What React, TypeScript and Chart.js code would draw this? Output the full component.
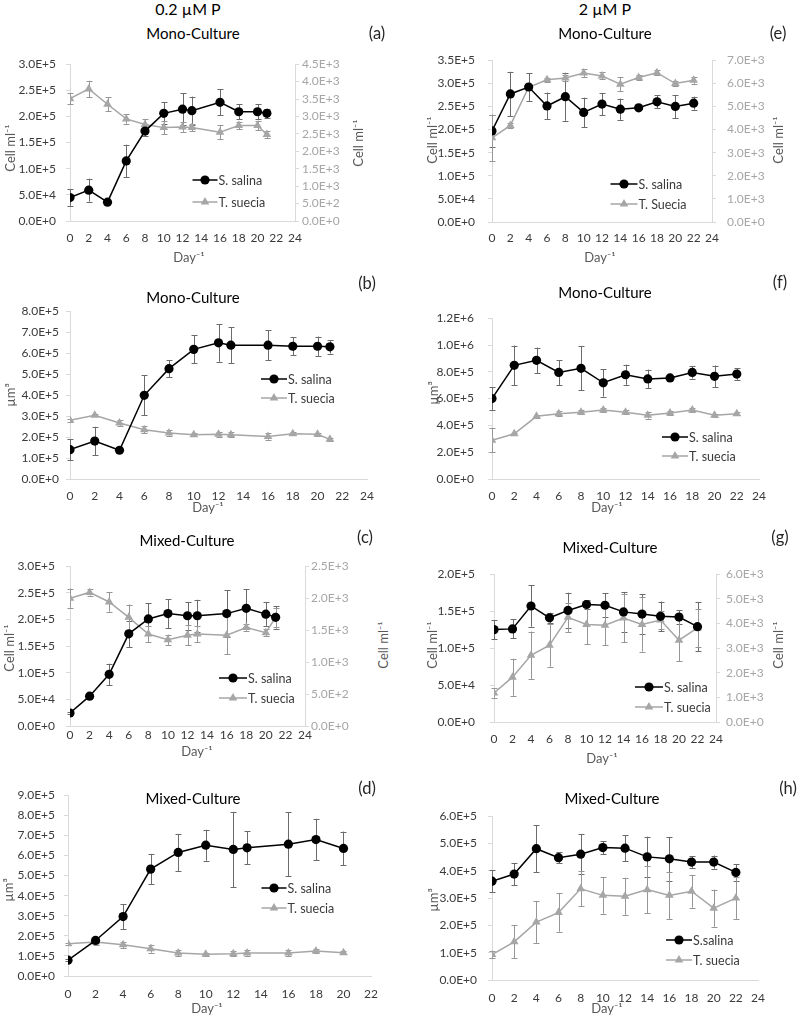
import React, { useEffect, useRef } from 'react';
import { Chart, registerables } from 'chart.js';

Chart.register(...registerables);

const FONT = 'Lato, "Open Sans", "DejaVu Sans", sans-serif';

// ---------- data ----------
const daysLow = [0, 2, 4, 6, 8, 10, 12, 13, 16, 18, 20, 21];
const daysLowD = [0, 2, 4, 6, 8, 10, 12, 13, 16, 18, 20];
const daysHigh = [0, 2, 4, 6, 8, 10, 12, 14, 16, 18, 20, 22];

// (a) 0.2 µM P, mono-culture, cells
const aSalina = [45000, 59000, 36000, 115000, 172000, 206000, 214000, 211000, 227000, 209000, 209000, 206000];
const aSalinaErr = [16000, 22000, 2000, 31000, 10000, 21000, 30000, 27000, 25000, 14000, 14000, 9000];
const aSuecia = [3510, 3790, 3350, 2930, 2770, 2680, 2700, 2680, 2550, 2740, 2740, 2480];
const aSueciaErr = [160, 235, 200, 140, 160, 190, 140, 110, 200, 110, 140, 95];

// (b) 0.2 µM P, mono-culture, biovolume
const bSalina = [140000, 181000, 137000, 399000, 526000, 618000, 649000, 638000, 638000, 633000, 633000, 630000];
const bSalinaErr = [50000, 68000, 5000, 95000, 40000, 67000, 90000, 85000, 72000, 43000, 46000, 32000];
const bSuecia = [280000, 304000, 267000, 235000, 219000, 211000, 213000, 211000, 203000, 216000, 213000, 189000];
const bSueciaErr = [8000, 6000, 13000, 16000, 13000, 6000, 13000, 12000, 16000, 8000, 8000, 8000];

// (c) 0.2 µM P, mixed-culture, cells
const cSalina = [24400, 56000, 97000, 173000, 201000, 211000, 207000, 207000, 211000, 221000, 210000, 204000];
const cSalinaErr = [2000, 4000, 20000, 25000, 30000, 27000, 26000, 30000, 44000, 36000, 22000, 21000];
const cSuecia = [2000, 2090, 1940, 1700, 1440, 1350, 1420, 1440, 1420, 1540, 1460, 1700];
const cSueciaErr = [150, 50, 150, 200, 130, 80, 160, 130, 300, 50, 50, 150];

// (d) 0.2 µM P, mixed-culture, biovolume
const dSalina = [79000, 177000, 296000, 532000, 615000, 651000, 630000, 638000, 656000, 679000, 635000];
const dSalinaErr = [5000, 13000, 62000, 76000, 92000, 77000, 187000, 82000, 160000, 104000, 84000];
const dSuecia = [160000, 169000, 155000, 136000, 115000, 108000, 111000, 115000, 115000, 124000, 116000];
const dSueciaErr = [5000, 13000, 16000, 20000, 16000, 8000, 13000, 13000, 16000, 8000, 8000];

// (e) 2 µM P, mono-culture, cells
const eSalina = [197000, 277000, 292000, 251000, 271000, 237000, 255000, 244000, 247000, 260000, 250000, 257000];
const eSalinaErr = [35000, 48000, 30000, 29000, 52000, 32000, 24000, 23000, 3000, 14000, 25000, 14000];
const eSuecia = [3640, 4180, 5830, 6150, 6230, 6450, 6320, 5960, 6250, 6460, 5990, 6130];
const eSueciaErr = [1000, 100, 100, 100, 130, 170, 150, 300, 120, 120, 120, 150];

// (f) 2 µM P, mono-culture, biovolume
const fSalina = [600000, 848000, 886000, 795000, 826000, 718000, 778000, 747000, 754000, 795000, 766000, 783000];
const fSalinaErr = [84000, 148000, 95000, 93000, 163000, 103000, 75000, 69000, 10000, 45000, 81000, 43000];
const fSuecia = [289000, 337000, 468000, 487000, 499000, 515000, 499000, 475000, 492000, 515000, 475000, 487000];
const fSueciaErr = [88000, 10000, 10000, 17000, 17000, 17000, 17000, 24000, 17000, 17000, 12000, 12000];

// (g) 2 µM P, mixed-culture, cells
const gSalina = [125000, 126000, 157000, 141000, 151000, 159000, 158000, 149000, 146000, 143000, 142000, 129000];
const gSalinaErr = [13000, 13000, 28000, 7000, 24000, 6000, 16000, 27000, 27000, 20000, 9000, 33000];
const gSuecia = [1180, 1820, 2710, 3120, 4250, 3960, 3930, 4220, 3960, 4140, 3320, 3820];
const gSueciaErr = [190, 750, 960, 870, 600, 800, 810, 990, 1100, 360, 860, 770];

// (h) 2 µM P, mixed-culture, biovolume
const hSalina = [362000, 388000, 481000, 448000, 461000, 485000, 483000, 451000, 444000, 432000, 432000, 394000];
const hSalinaErr = [40000, 41000, 86000, 20000, 72000, 24000, 48000, 74000, 80000, 21000, 24000, 30000];
const hSuecia = [93000, 140000, 212000, 247000, 334000, 310000, 307000, 331000, 310000, 325000, 263000, 300000];
const hSueciaErr = [12000, 60000, 76000, 70000, 64000, 67000, 68000, 86000, 87000, 60000, 68000, 76000];

const columnHeaders = ['0.2 µM P', '2 µM P'];
const cellTitle = 'Cell ml⁻¹';
const volTitle = 'µm³';
const dayTitle = 'Day⁻¹';

// ---------- styles ----------
const BLACK = '#000000';
const GREY = '#a6a6a6';
const AXIS = '#d9d9d9';
const TICK_DARK = '#3a3a3a';
const TICK_LIGHT = '#a6a6a6';
const TITLE_GREY = '#595959';

function fmtE(v: number) {
  if (Math.abs(v) < 1e-9) return '0.0E+0';
  return v.toExponential(1).toUpperCase();
}

// Error bars drawn through the chart's own scales
const errorBarPlugin = {
  id: 'errbars',
  beforeDatasetsDraw(chart: any) {
    const ctx = chart.ctx;
    const xs = chart.scales.x;
    chart.data.datasets.forEach((ds: any) => {
      const errs = ds.errors;
      if (!errs) return;
      const ys = chart.scales[ds.yAxisID];
      ctx.save();
      ctx.strokeStyle = ds.errorColor;
      ctx.lineWidth = 1;
      ds.data.forEach((p: any, j: number) => {
        const x = Math.round(xs.getPixelForValue(p.x)) + 0.5;
        const yt = ys.getPixelForValue(p.y + errs[j]);
        const yb = ys.getPixelForValue(p.y - errs[j]);
        ctx.beginPath();
        ctx.moveTo(x, yt);
        ctx.lineTo(x, yb);
        ctx.moveTo(x - 3, Math.round(yt) + 0.5);
        ctx.lineTo(x + 3, Math.round(yt) + 0.5);
        ctx.moveTo(x - 3, Math.round(yb) + 0.5);
        ctx.lineTo(x + 3, Math.round(yb) + 0.5);
        ctx.stroke();
      });
      ctx.restore();
    });
  },
};

function drawMarker(ctx: any, style: string, x: number, y: number, r: number, color: string) {
  ctx.fillStyle = color;
  ctx.strokeStyle = color;
  ctx.beginPath();
  if (style === 'triangle') {
    let a = 0;
    ctx.moveTo(x + Math.sin(a) * r, y - Math.cos(a) * r);
    a += (2 * Math.PI) / 3;
    ctx.lineTo(x + Math.sin(a) * r, y - Math.cos(a) * r);
    a += (2 * Math.PI) / 3;
    ctx.lineTo(x + Math.sin(a) * r, y - Math.cos(a) * r);
    ctx.closePath();
  } else {
    ctx.arc(x, y, r, 0, Math.PI * 2);
  }
  ctx.fill();
}

// Legend placed inside the plot area (page coordinates given in options)
const inLegendPlugin = {
  id: 'inlegend',
  afterDraw(chart: any, _args: any, opts: any) {
    if (!opts || opts.mx === undefined) return;
    const ctx = chart.ctx;
    const rows = [opts.y1, opts.y2];
    chart.data.datasets.forEach((ds: any, i: number) => {
      const x = opts.mx - opts.ox;
      const y = rows[i] - opts.oy;
      ctx.save();
      ctx.strokeStyle = ds.borderColor;
      ctx.lineWidth = 1.5;
      ctx.beginPath();
      ctx.moveTo(x - opts.half, y);
      ctx.lineTo(x + opts.half, y);
      ctx.stroke();
      drawMarker(ctx, ds.pointStyle, x, y, ds.pointRadius, ds.backgroundColor);
      ctx.fillStyle = TICK_DARK;
      ctx.font = `12.5px ${FONT}`;
      ctx.textBaseline = 'middle';
      ctx.textAlign = 'left';
      ctx.fillText(ds.label, x + opts.half + 1, y + 0.5);
      ctx.restore();
    });
  },
};

type Panel = {
  id: string;
  days: number[];
  salina: number[];
  salinaErr: number[];
  suecia: number[];
  sueciaErr: number[];
  salinaLabel: string;
  sueciaLabel: string;
  yMax: number;
  yStep: number;
  y2Max?: number;
  y2Step?: number;
  xMax: number;
  col: number;
  L: number;
  R: number;
  T: number;
  B: number;
  lPad: number;
  rPad: number;
  xPad: number;
  legend: { mx: number; y1: number; y2: number; half: number };
};

const panels: Panel[] = [
  {
    id: 'a', days: daysLow, salina: aSalina, salinaErr: aSalinaErr, suecia: aSuecia, sueciaErr: aSueciaErr,
    salinaLabel: 'S. salina', sueciaLabel: 'T. suecia',
    yMax: 300000, yStep: 50000, y2Max: 4500, y2Step: 500, xMax: 24,
    col: 0, L: 70, R: 295, T: 61, B: 221, lPad: 10, rPad: 3, xPad: 10,
    legend: { mx: 205, y1: 180, y2: 202, half: 12.5 },
  },
  {
    id: 'b', days: daysLow, salina: bSalina, salinaErr: bSalinaErr, suecia: bSuecia, sueciaErr: bSueciaErr,
    salinaLabel: 'S. salina', sueciaLabel: 'T. suecia',
    yMax: 800000, yStep: 100000, xMax: 24,
    col: 0, L: 70, R: 368, T: 311, B: 479, lPad: 7, rPad: 0, xPad: 10,
    legend: { mx: 274, y1: 379, y2: 398, half: 13 },
  },
  {
    id: 'c', days: daysLow, salina: cSalina, salinaErr: cSalinaErr, suecia: cSuecia, sueciaErr: cSueciaErr,
    salinaLabel: 'S. salina', sueciaLabel: 'T. suecia',
    yMax: 300000, yStep: 50000, y2Max: 2500, y2Step: 500, xMax: 24,
    col: 0, L: 70, R: 305, T: 562, B: 726, lPad: 11, rPad: 2, xPad: 2,
    legend: { mx: 233, y1: 678, y2: 698, half: 14 },
  },
  {
    id: 'd', days: daysLowD, salina: dSalina, salinaErr: dSalinaErr, suecia: dSuecia, sueciaErr: dSueciaErr,
    salinaLabel: 'S. salina', sueciaLabel: 'T. suecia',
    yMax: 900000, yStep: 100000, xMax: 22,
    col: 0, L: 68, R: 373, T: 793, B: 976, lPad: 9, rPad: 0, xPad: 11,
    legend: { mx: 274, y1: 888, y2: 908, half: 12.5 },
  },
  {
    id: 'e', days: daysHigh, salina: eSalina, salinaErr: eSalinaErr, suecia: eSuecia, sueciaErr: eSueciaErr,
    salinaLabel: 'S. salina', sueciaLabel: 'T. Suecia',
    yMax: 350000, yStep: 50000, y2Max: 7000, y2Step: 1000, xMax: 24,
    col: 400, L: 492, R: 712, T: 54, B: 222, lPad: 13, rPad: 11, xPad: 9,
    legend: { mx: 624, y1: 184, y2: 204, half: 13.5 },
  },
  {
    id: 'f', days: daysHigh, salina: fSalina, salinaErr: fSalinaErr, suecia: fSuecia, sueciaErr: fSueciaErr,
    salinaLabel: 'S. salina', sueciaLabel: 'T. suecia',
    yMax: 1200000, yStep: 200000, xMax: 24,
    col: 400, L: 492, R: 760, T: 311, B: 479, lPad: 14, rPad: 0, xPad: 10,
    legend: { mx: 675, y1: 437, y2: 456, half: 13 },
  },
  {
    id: 'g', days: daysHigh, salina: gSalina, salinaErr: gSalinaErr, suecia: gSuecia, sueciaErr: gSueciaErr,
    salinaLabel: 'S. salina', sueciaLabel: 'T. suecia',
    yMax: 200000, yStep: 50000, y2Max: 6000, y2Step: 1000, xMax: 24,
    col: 400, L: 494, R: 716, T: 566, B: 722, lPad: 15, rPad: 6, xPad: 10,
    legend: { mx: 649, y1: 687, y2: 707, half: 14 },
  },
  {
    id: 'h', days: daysHigh, salina: hSalina, salinaErr: hSalinaErr, suecia: hSuecia, sueciaErr: hSueciaErr,
    salinaLabel: 'S.salina', sueciaLabel: 'T. suecia',
    yMax: 600000, yStep: 100000, xMax: 24,
    col: 400, L: 492, R: 760, T: 812, B: 980, lPad: 11, rPad: 0, xPad: 11,
    legend: { mx: 679, y1: 940, y2: 960, half: 13 },
  },
];

type Txt = { t: string; x: number; y: number; size: number; color: string; rot?: boolean };

const H = 16;
const TS = 15;
const LS = 16.5;
const AS = 13;

const texts: Txt[] = [
  { t: columnHeaders[0], x: 188, y: 9, size: H, color: '#000' },
  { t: columnHeaders[1], x: 605, y: 9, size: H, color: '#000' },
  { t: 'Mono-Culture', x: 193, y: 33, size: TS, color: '#000' },
  { t: 'Mono-Culture', x: 605, y: 33, size: TS, color: '#000' },
  { t: 'Mono-Culture', x: 193, y: 297, size: TS, color: '#000' },
  { t: 'Mono-Culture', x: 605, y: 292, size: TS, color: '#000' },
  { t: 'Mixed-Culture', x: 187, y: 540, size: TS, color: '#000' },
  { t: 'Mixed-Culture', x: 610, y: 547, size: TS, color: '#000' },
  { t: 'Mixed-Culture', x: 193, y: 798, size: TS, color: '#000' },
  { t: 'Mixed-Culture', x: 612, y: 798, size: TS, color: '#000' },
  { t: '(a)', x: 377, y: 33, size: LS, color: '#262626' },
  { t: '(e)', x: 778, y: 33, size: LS, color: '#262626' },
  { t: '(b)', x: 367, y: 283, size: LS, color: '#262626' },
  { t: '(f)', x: 780, y: 282, size: LS, color: '#262626' },
  { t: '(c)', x: 365, y: 537, size: LS, color: '#262626' },
  { t: '(g)', x: 780, y: 537, size: LS, color: '#262626' },
  { t: '(d)', x: 367, y: 788, size: LS, color: '#262626' },
  { t: '(h)', x: 788, y: 788, size: LS, color: '#262626' },
  { t: cellTitle, x: 10, y: 148, size: AS, color: TITLE_GREY, rot: true },
  { t: cellTitle, x: 358, y: 143, size: AS, color: TITLE_GREY, rot: true },
  { t: cellTitle, x: 432, y: 140, size: AS, color: TITLE_GREY, rot: true },
  { t: cellTitle, x: 778, y: 140, size: AS, color: TITLE_GREY, rot: true },
  { t: volTitle, x: 10, y: 395, size: AS, color: TITLE_GREY, rot: true },
  { t: volTitle, x: 433, y: 393, size: AS, color: TITLE_GREY, rot: true },
  { t: cellTitle, x: 9, y: 648, size: AS, color: TITLE_GREY, rot: true },
  { t: cellTitle, x: 383, y: 645, size: AS, color: TITLE_GREY, rot: true },
  { t: cellTitle, x: 432, y: 645, size: AS, color: TITLE_GREY, rot: true },
  { t: cellTitle, x: 778, y: 645, size: AS, color: TITLE_GREY, rot: true },
  { t: volTitle, x: 8, y: 890, size: AS, color: TITLE_GREY, rot: true },
  { t: volTitle, x: 433, y: 900, size: AS, color: TITLE_GREY, rot: true },
  { t: dayTitle, x: 189, y: 257, size: AS, color: TITLE_GREY },
  { t: dayTitle, x: 600, y: 257, size: AS, color: TITLE_GREY },
  { t: dayTitle, x: 208, y: 507, size: AS, color: TITLE_GREY },
  { t: dayTitle, x: 607, y: 507, size: AS, color: TITLE_GREY },
  { t: dayTitle, x: 197, y: 751, size: AS, color: TITLE_GREY },
  { t: dayTitle, x: 602, y: 758, size: AS, color: TITLE_GREY },
  { t: dayTitle, x: 207, y: 1008, size: AS, color: TITLE_GREY },
  { t: dayTitle, x: 607, y: 1008, size: AS, color: TITLE_GREY },
];

function geometry(p: Panel) {
  const hasRight = p.y2Max !== undefined;
  const cx = p.col;
  const cy = p.T - 14;
  const rightW = hasRight ? 58 : 0;
  const w = p.R + (hasRight ? rightW : 16) - cx;
  const h = p.B + 30 - cy;
  return { hasRight, cx, cy, w, h, rightW };
}

function buildConfig(p: Panel): any {
  const g = geometry(p);
  const tickFont = { family: FONT, size: 12 };
  const scales: any = {
    x: {
      type: 'linear',
      min: 0,
      max: p.xMax,
      ticks: { stepSize: 2, autoSkip: false, maxRotation: 0, color: TICK_DARK, font: tickFont, padding: p.xPad },
      grid: { drawOnChartArea: false, drawTicks: false, color: AXIS },
      border: { display: true, color: AXIS, width: 1 },
      afterFit: (s: any) => { s.height = 30; },
    },
    y: {
      type: 'linear',
      position: 'left',
      min: 0,
      max: p.yMax,
      ticks: { stepSize: p.yStep, autoSkip: false, color: TICK_DARK, font: tickFont, padding: p.lPad, callback: (v: any) => fmtE(Number(v)) },
      grid: { drawOnChartArea: false, drawTicks: true, tickLength: 4, color: AXIS },
      border: { display: true, color: AXIS, width: 1 },
      afterFit: (s: any) => { s.width = p.L - g.cx; },
    },
  };
  if (g.hasRight) {
    scales.y2 = {
      type: 'linear',
      position: 'right',
      min: 0,
      max: p.y2Max,
      ticks: { stepSize: p.y2Step, autoSkip: false, color: TICK_LIGHT, font: tickFont, padding: p.rPad, callback: (v: any) => fmtE(Number(v)) },
      grid: { drawOnChartArea: false, drawTicks: true, tickLength: 4, color: AXIS },
      border: { display: true, color: AXIS, width: 1 },
      afterFit: (s: any) => { s.width = g.rightW; },
    };
  }
  const salinaData = p.days.map((d, i) => ({ x: d, y: p.salina[i] }));
  const sueciaData = p.days.map((d, i) => ({ x: d, y: p.suecia[i] }));
  return {
    type: 'line',
    data: {
      datasets: [
        {
          label: p.salinaLabel,
          data: salinaData,
          errors: p.salinaErr,
          errorColor: '#6b6b6b',
          yAxisID: 'y',
          borderColor: BLACK,
          backgroundColor: BLACK,
          borderWidth: 1.5,
          pointStyle: 'circle',
          pointRadius: 4.6,
          pointBorderWidth: 0,
          tension: 0,
          order: 0,
        },
        {
          label: p.sueciaLabel,
          data: sueciaData,
          errors: p.sueciaErr,
          errorColor: '#969696',
          yAxisID: g.hasRight ? 'y2' : 'y',
          borderColor: GREY,
          backgroundColor: GREY,
          borderWidth: 1.5,
          pointStyle: 'triangle',
          pointRadius: 5,
          pointBorderWidth: 0,
          tension: 0,
          order: 1,
        },
      ],
    },
    options: {
      responsive: false,
      maintainAspectRatio: false,
      animation: false,
      events: [],
      layout: { padding: { top: p.T - g.cy, right: g.hasRight ? 0 : 16, left: 0, bottom: 0 } },
      scales,
      plugins: {
        legend: { display: false },
        tooltip: { enabled: false },
        title: { display: false },
        inlegend: { ...p.legend, ox: g.cx, oy: g.cy },
      },
    },
    plugins: [errorBarPlugin, inLegendPlugin],
  };
}

function PanelChart({ p }: { p: Panel }) {
  const ref = useRef<HTMLCanvasElement | null>(null);
  const g = geometry(p);
  useEffect(() => {
    if (!ref.current) return;
    const chart = new Chart(ref.current, buildConfig(p));
    return () => chart.destroy();
  }, []);
  return (
    <canvas
      ref={ref}
      width={g.w}
      height={g.h}
      style={{ position: 'absolute', left: g.cx, top: g.cy, width: g.w, height: g.h }}
    />
  );
}

export default function App() {
  return (
    <div
      style={{
        position: 'absolute',
        left: 0,
        top: 0,
        width: 800,
        height: 1017,
        background: '#ffffff',
        overflow: 'hidden',
        fontFamily: FONT,
      }}
    >
      {panels.map((p) => (
        <PanelChart key={p.id} p={p} />
      ))}
      {texts.map((t, i) => (
        <div
          key={i}
          style={{
            position: 'absolute',
            left: t.x,
            top: t.y,
            transform: `translate(-50%, -50%)${t.rot ? ' rotate(-90deg)' : ''}`,
            whiteSpace: 'nowrap',
            fontSize: t.size,
            color: t.color,
            lineHeight: 1,
          }}
        >
          {t.t}
        </div>
      ))}
    </div>
  );
}
